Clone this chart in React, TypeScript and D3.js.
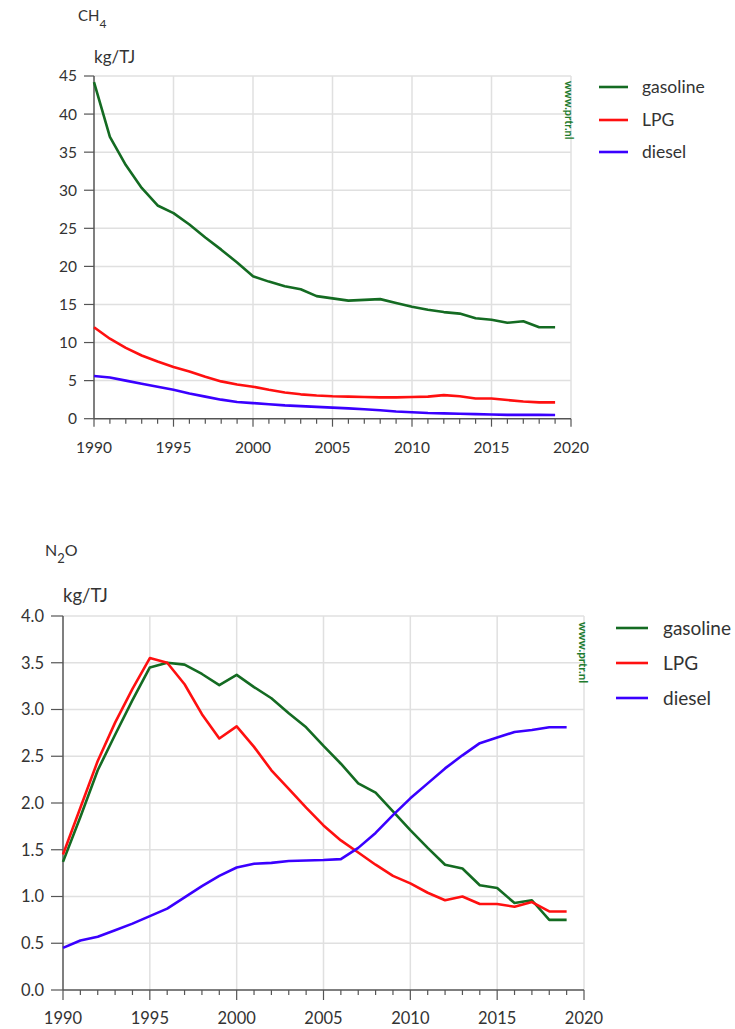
import React from "react";
import * as d3 from "d3";

const years = d3.range(1990, 2020);
const seriesNames = ["gasoline", "LPG", "diesel"];
const seriesColors = ["#146b22", "#ff1010", "#3a00ff"];

const ch4Gasoline = [44.2, 37.0, 33.3, 30.3, 28.0, 27.0, 25.5, 23.8, 22.2, 20.5, 18.7, 18.0, 17.4, 17.0, 16.1, 15.8, 15.5, 15.6, 15.7, 15.2, 14.7, 14.3, 14.0, 13.8, 13.2, 13.0, 12.6, 12.8, 12.0, 12.0];
const ch4LPG = [12.0, 10.5, 9.3, 8.3, 7.5, 6.8, 6.2, 5.5, 4.9, 4.5, 4.2, 3.8, 3.45, 3.2, 3.05, 2.95, 2.9, 2.85, 2.8, 2.8, 2.85, 2.9, 3.1, 2.95, 2.65, 2.65, 2.45, 2.25, 2.15, 2.15];
const ch4Diesel = [5.6, 5.4, 5.0, 4.6, 4.2, 3.8, 3.3, 2.9, 2.5, 2.2, 2.05, 1.9, 1.75, 1.65, 1.55, 1.45, 1.35, 1.25, 1.1, 0.95, 0.85, 0.75, 0.7, 0.65, 0.6, 0.55, 0.5, 0.5, 0.5, 0.48];

const n2oGasoline = [1.37, 1.85, 2.35, 2.73, 3.1, 3.45, 3.5, 3.48, 3.38, 3.26, 3.37, 3.24, 3.12, 2.96, 2.81, 2.61, 2.42, 2.21, 2.11, 1.91, 1.71, 1.52, 1.34, 1.3, 1.12, 1.09, 0.93, 0.96, 0.75, 0.75];
const n2oLPG = [1.45, 1.95, 2.45, 2.86, 3.22, 3.55, 3.5, 3.27, 2.95, 2.69, 2.82, 2.6, 2.35, 2.15, 1.95, 1.76, 1.6, 1.47, 1.34, 1.22, 1.14, 1.04, 0.96, 1.0, 0.92, 0.92, 0.89, 0.94, 0.84, 0.84];
const n2oDiesel = [0.45, 0.53, 0.57, 0.64, 0.71, 0.79, 0.87, 0.99, 1.11, 1.22, 1.31, 1.35, 1.36, 1.38, 1.385, 1.39, 1.4, 1.52, 1.68, 1.87, 2.05, 2.21, 2.37, 2.51, 2.64, 2.7, 2.76, 2.78, 2.81, 2.81];

const xTicks = [1990, 1995, 2000, 2005, 2010, 2015, 2020];
const ch4YTicks = [0, 5, 10, 15, 20, 25, 30, 35, 40, 45];
const n2oYTicks = [0, 0.5, 1.0, 1.5, 2.0, 2.5, 3.0, 3.5, 4.0];

const FONT = "Lato, 'Open Sans', sans-serif";

type ChartProps = {
  data: number[][];
  yTicks: number[];
  yFmt: (v: number) => string;
  x0: number; x1: number; y0: number; y1: number;
  tickFont: number;
  yTickLen: number;
  xMajorLen: number;
  xMinorLen: number;
  xLabelY: number;
  yLabelX: number;
  titleMain: string; titleSub: string; titleTail: string;
  titleX: number; titleY: number; titleFont: number;
  unitX: number; unitY: number; unitFont: number;
  legLineX0: number; legLineX1: number; legTextX: number; legYs: number[]; legFont: number;
  wmX: number; wmY: number; wmFont: number;
};

function Chart(p: ChartProps) {
  const x = d3.scaleLinear().domain([1990, 2020]).range([p.x0, p.x1]);
  const yMax = p.yTicks[p.yTicks.length - 1];
  const y = d3.scaleLinear().domain([0, yMax]).range([p.y0, p.y1]);
  const line = d3.line<number>().x((_, i) => x(years[i])).y((d) => y(d));
  const allYears = d3.range(1990, 2021);
  return (
    <g>
      {p.yTicks.filter((t) => t > 0).map((t) => (
        <line key={"gy" + t} x1={p.x0} x2={p.x1} y1={y(t)} y2={y(t)} stroke="#e0e0e0" strokeWidth={1.5} />
      ))}
      {xTicks.filter((t) => t > 1990).map((t) => (
        <line key={"gx" + t} x1={x(t)} x2={x(t)} y1={p.y0} y2={p.y1} stroke="#e0e0e0" strokeWidth={1.5} />
      ))}
      <line x1={p.x0} x2={p.x0} y1={p.y0} y2={p.y1} stroke="#555" strokeWidth={1.5} />
      <line x1={p.x0} x2={p.x1} y1={p.y0} y2={p.y0} stroke="#555" strokeWidth={1.5} />
      {p.yTicks.map((t) => (
        <g key={"yt" + t}>
          <line x1={p.x0 - p.yTickLen} x2={p.x0} y1={y(t)} y2={y(t)} stroke="#555" strokeWidth={1.2} />
          <text x={p.yLabelX} y={y(t)} dy="0.35em" textAnchor="end" fontSize={p.tickFont} fill="#333" fontFamily={FONT}>
            {p.yFmt(t)}
          </text>
        </g>
      ))}
      {allYears.map((t) => (
        <line key={"xt" + t} x1={x(t)} x2={x(t)} y1={p.y0} y2={p.y0 + (t % 5 === 0 ? p.xMajorLen : p.xMinorLen)} stroke="#555" strokeWidth={1.2} />
      ))}
      {xTicks.map((t) => (
        <text key={"xl" + t} x={x(t)} y={p.xLabelY} textAnchor="middle" fontSize={p.tickFont} fill="#333" fontFamily={FONT}>
          {t}
        </text>
      ))}
      {p.data.map((d, i) => (
        <path key={"s" + i} d={line(d) || ""} fill="none" stroke={seriesColors[i]} strokeWidth={2.6} strokeLinejoin="round" />
      ))}
      <text x={p.titleX} y={p.titleY} fontSize={p.titleFont} fill="#333" fontFamily={FONT}>
        {p.titleMain}
        <tspan dy={7} fontSize={p.titleFont - 3}>{p.titleSub}</tspan>
        <tspan dy={-7} fontSize={p.titleFont}>{p.titleTail}</tspan>
      </text>
      <text x={p.unitX} y={p.unitY} fontSize={p.unitFont} fill="#333" fontFamily={FONT}>kg/TJ</text>
      <text transform={`translate(${p.wmX},${p.wmY}) rotate(90)`} fontSize={p.wmFont} fill="#1e7b2e" fontFamily={FONT} fontWeight="bold" textAnchor="start">
        www.prtr.nl
      </text>
      {seriesNames.map((n, i) => (
        <g key={"lg" + n}>
          <line x1={p.legLineX0} x2={p.legLineX1} y1={p.legYs[i]} y2={p.legYs[i]} stroke={seriesColors[i]} strokeWidth={2.6} />
          <text x={p.legTextX} y={p.legYs[i]} dy="0.35em" fontSize={p.legFont} fill="#333" fontFamily={FONT}>{n}</text>
        </g>
      ))}
    </g>
  );
}

export default function App() {
  return (
    <svg width={735} height={1029} style={{ position: "absolute", left: 0, top: 0, background: "#fff" }}>
      <Chart
        data={[ch4Gasoline, ch4LPG, ch4Diesel]}
        yTicks={ch4YTicks}
        yFmt={(v) => String(v)}
        x0={94} x1={571} y0={418.7} y1={76}
        tickFont={15.5}
        yTickLen={10} xMajorLen={8} xMinorLen={5}
        xLabelY={453} yLabelX={77}
        titleMain="CH" titleSub="4" titleTail=""
        titleX={78} titleY={21} titleFont={15}
        unitX={94} unitY={63} unitFont={17}
        legLineX0={599} legLineX1={628} legTextX={642} legYs={[87, 120, 152]} legFont={17.5}
        wmX={565} wmY={81} wmFont={11}
      />
      <Chart
        data={[n2oGasoline, n2oLPG, n2oDiesel]}
        yTicks={n2oYTicks}
        yFmt={(v) => v.toFixed(1)}
        x0={63} x1={584} y0={990} y1={616}
        tickFont={16.5}
        yTickLen={12} xMajorLen={10} xMinorLen={5}
        xLabelY={1024} yLabelX={44}
        titleMain="N" titleSub="2" titleTail="O"
        titleX={45} titleY={556} titleFont={16}
        unitX={63} unitY={602} unitFont={18.5}
        legLineX0={616} legLineX1={648} legTextX={663} legYs={[628, 663, 698]} legFont={19}
        wmX={579} wmY={622} wmFont={11.5}
      />
    </svg>
  );
}
